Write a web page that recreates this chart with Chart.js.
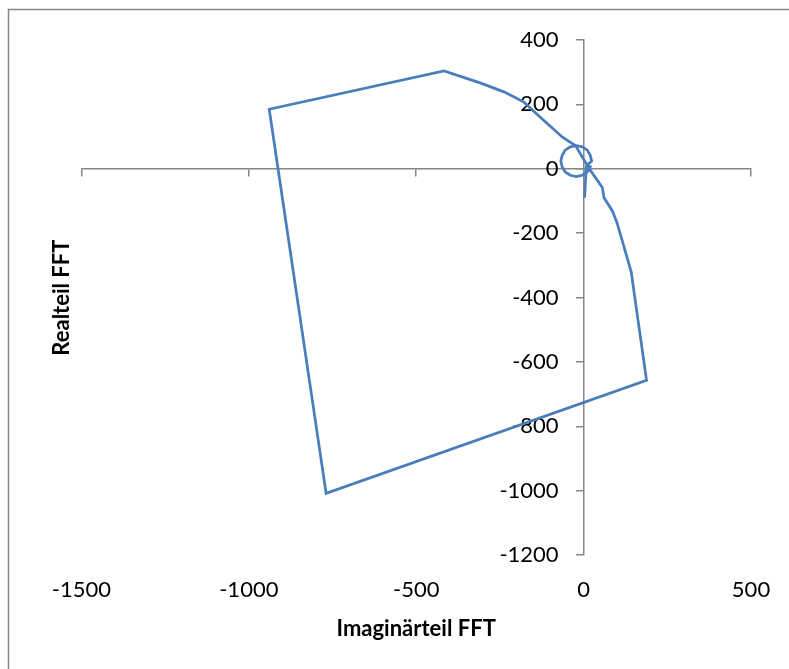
<!DOCTYPE html>
<html>
<head>
<meta charset="utf-8">
<script src="https://cdn.jsdelivr.net/npm/chart.js@4/dist/chart.umd.min.js"></script>
<style>
  html, body { margin: 0; padding: 0; background: #fff; }
  #wrap { position: relative; width: 789px; height: 669px; }
</style>
</head>
<body>
<div id="wrap"><canvas id="c" width="789" height="669"></canvas></div>
<script>
const imagPart = [3, 8, 24, 20, 11, -4, -22, -40, -55, -64, -68, -64, -55, -40, -22, -4, 11, 20, 10, -24, -63, -108, -140, -178, -238, -307, -417, -939, -769, 188, 142, 100, 86, 61, 56, 11];
const realPart = [-90, 8, 24, 42, 58, 68, 72, 68, 58, 42, 24, 6, -10, -20, -24, -20, -10, 6, 12, 72, 98, 140, 170, 207, 239, 266, 304, 185, -1008, -657, -319, -168, -131, -90, -58, 9];
const xTicks = [-1500, -1000, -500, 0, 500];
const yTicks = [-1200, -1000, -800, -600, -400, -200, 0, 200, 400];
const xTitle = 'Imaginärteil FFT';
const yTitle = 'Realteil FFT';

const points = imagPart.map((v, i) => ({ x: v, y: realPart[i] }));
const axisGray = '#868686';
const fontFam = 'Lato, "Liberation Sans", sans-serif';

const framePlugin = {
  id: 'frame',
  beforeDraw(chart) {
    const ctx = chart.ctx;
    ctx.save();
    ctx.fillStyle = '#fff';
    ctx.fillRect(0, 0, chart.width, chart.height);
    ctx.strokeStyle = axisGray;
    ctx.lineWidth = 1.5;
    ctx.strokeRect(8.5, 9.5, 900, 900);
    ctx.restore();
    // shift the y labels away from the axis line (tick length + padding)
    const ys = chart.scales.y;
    const items = ys.getLabelItems(chart.chartArea);
    if (!ys._shifted) {
      items.forEach(it => { it.options.translation[0] -= 25; });
      ys._shifted = true;
    }
  },
  afterUpdate(chart) { chart.scales.y._shifted = false; }
};

const noSidePad = (s) => { s.paddingLeft = 0; s.paddingRight = 0; };

new Chart(document.getElementById('c'), {
  type: 'scatter',
  data: {
    datasets: [{
      data: points,
      showLine: true,
      borderColor: '#4A7EBB',
      borderWidth: 2.75,
      pointRadius: 0,
      pointHoverRadius: 0,
      tension: 0,
      fill: false,
      xAxisID: 'x',
      yAxisID: 'y'
    }]
  },
  options: {
    responsive: false,
    animation: false,
    events: [],
    layout: { padding: { left: 49, right: 38, top: 40, bottom: 27 } },
    plugins: { legend: { display: false }, tooltip: { enabled: false } },
    scales: {
      x: {
        type: 'linear',
        min: -1500, max: 500,
        position: { y: 0 },
        afterBuildTicks: (s) => { s.ticks = xTicks.map(v => ({ value: v })); },
        afterFit: noSidePad,
        ticks: { display: false },
        grid: { drawOnChartArea: false, drawTicks: true, tickLength: 7, color: axisGray, lineWidth: 1.5 },
        border: { display: true, color: axisGray, width: 1.5 }
      },
      xl: {
        type: 'linear',
        min: -1500, max: 500,
        position: 'bottom',
        afterBuildTicks: (s) => { s.ticks = xTicks.map(v => ({ value: v })); },
        afterFit: noSidePad,
        ticks: { color: '#000', font: { family: fontFam, size: 22 }, padding: 22, maxRotation: 0, autoSkip: false, callback: (v) => String(v) },
        grid: { display: false, drawTicks: false },
        border: { display: false },
        title: { display: true, text: xTitle, color: '#000', font: { family: fontFam, size: 22, weight: 'bold' }, padding: { top: -10, bottom: 0 } }
      },
      y: {
        type: 'linear',
        min: -1200, max: 400,
        position: { x: 0 },
        afterBuildTicks: (s) => { s.ticks = yTicks.map(v => ({ value: v })); },
        ticks: { color: '#000', font: { family: fontFam, size: 22 }, padding: 18, autoSkip: false, callback: (v) => String(v) },
        grid: { drawOnChartArea: false, drawTicks: true, tickLength: 7, color: axisGray, lineWidth: 1.5 },
        border: { display: true, color: axisGray, width: 1.5 }
      },
      yt: {
        type: 'linear',
        min: -1200, max: 400,
        position: 'left',
        ticks: { display: false },
        grid: { display: false, drawTicks: false },
        border: { display: false },
        title: { display: true, text: yTitle, color: '#000', font: { family: fontFam, size: 22, weight: 'bold' }, padding: { top: 0, bottom: 6 } }
      }
    }
  },
  plugins: [framePlugin]
});
</script>
</body>
</html>
